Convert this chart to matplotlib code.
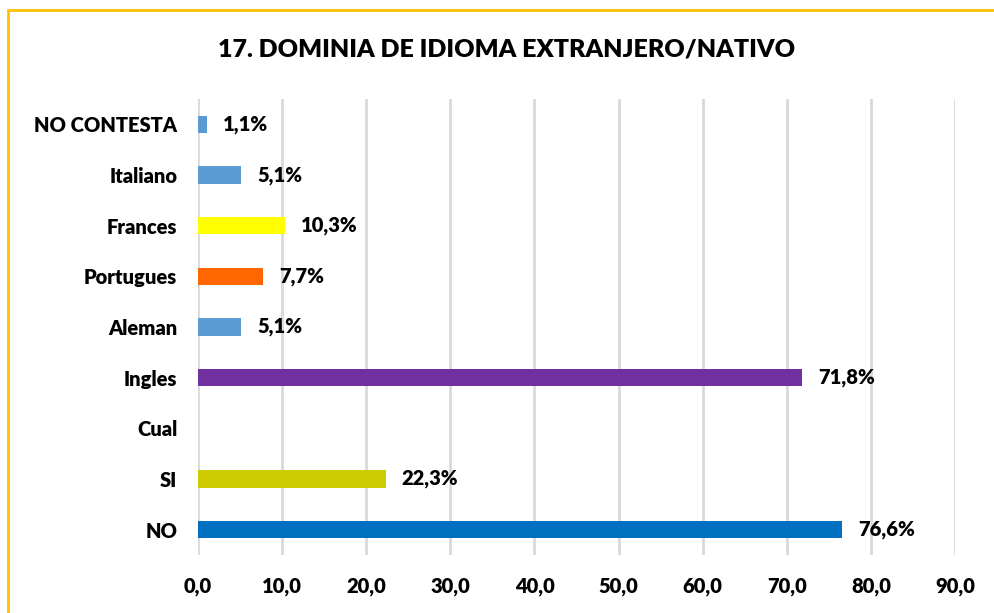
import numpy as np
import matplotlib
matplotlib.use("Agg")
import matplotlib.pyplot as plt
from matplotlib.patches import Rectangle

categories = ["NO CONTESTA", "Italiano", "Frances", "Portugues", "Aleman",
              "Ingles", "Cual", "SI", "NO"]
values = [1.1, 5.1, 10.3, 7.7, 5.1, 71.8, np.nan, 22.3, 76.6]
colors = ["#5B9BD5", "#5B9BD5", "#FFFF00", "#FF6600", "#5B9BD5",
          "#7030A0", "#FFFFFF", "#CCCC00", "#0070C0"]
xticks = [0, 10, 20, 30, 40, 50, 60, 70, 80, 90]
title = "17. DOMINIA DE IDIOMA EXTRANJERO/NATIVO"

plt.rcParams['font.family'] = ['Lato', 'DejaVu Sans']
WEIGHT = 'heavy'
FS = 14.5

W, H = 995, 613
fig = plt.figure(figsize=(W / 100, H / 100), dpi=100)

# axes: x 0 at px 198, 90 at px 955; rows from y=99 to y=555
ax = fig.add_axes([198 / W, 1 - 555 / H, (955 - 198) / W, (555 - 99) / H])

y = np.arange(len(categories))
vals = np.nan_to_num(np.array(values, dtype=float))
ax.barh(y, vals, height=0.34, color=colors, zorder=3)
ax.set_ylim(len(categories) - 0.5, -0.5)
ax.set_xlim(0, 90)

ax.set_yticks(y)
ax.set_yticklabels(categories, fontsize=FS, fontweight=WEIGHT)
ax.set_xticks(xticks)
ax.set_xticklabels([f"{t:.1f}".replace(".", ",") for t in xticks],
                   fontsize=FS, fontweight=WEIGHT)
ax.tick_params(axis='y', length=0, pad=15)
ax.tick_params(axis='x', length=0, pad=16)

ax.grid(axis='x', color='#D9D9D9', linewidth=2, zorder=0)
for s in ax.spines.values():
    s.set_visible(False)

for yi, v in zip(y, values):
    if np.isnan(v):
        continue
    ax.annotate(f"{v:.1f}%".replace(".", ","), (v, yi), xytext=(16, 0),
                textcoords='offset pixels', va='center', ha='left',
                fontsize=FS, fontweight=WEIGHT, color='black')

fig.text(507 / W, 1 - 50 / H, title, ha='center', va='center',
         fontsize=18, fontweight=WEIGHT)

# gold outline (only left and top visible in the reference)
fig.patches.append(Rectangle((8 / W, -0.1), 1.2, 1 - 10 / H + 0.1,
                             transform=fig.transFigure, fill=False,
                             edgecolor='#FFC000', linewidth=2))

fig.savefig("out.png", dpi=100)
